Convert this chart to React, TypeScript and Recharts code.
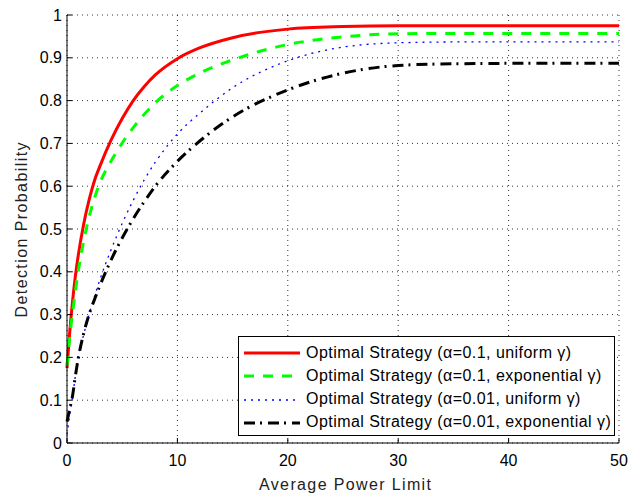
import React from 'react';
import { LineChart, Line, XAxis, YAxis, CartesianGrid } from 'recharts';

// average power limit (x) and detection probability of each strategy
const power = [0, 0.25, 0.5, 0.75, 1, 1.5, 2, 2.5, 3, 4, 5, 6, 7, 8, 10, 12, 15, 20, 25, 30, 35, 40, 45, 50];
const alpha1Uniform = [0.175, 0.26, 0.33, 0.388, 0.435, 0.51, 0.568, 0.614, 0.648, 0.708, 0.758, 0.8, 0.833, 0.86, 0.898, 0.923, 0.947, 0.967, 0.973, 0.975, 0.975, 0.975, 0.975, 0.975];
const alpha1Expo = [0.18, 0.248, 0.303, 0.353, 0.398, 0.47, 0.528, 0.573, 0.609, 0.659, 0.701, 0.737, 0.768, 0.795, 0.835, 0.864, 0.895, 0.931, 0.949, 0.956, 0.957, 0.957, 0.957, 0.957];
const alpha01Uniform = [0.02, 0.065, 0.108, 0.155, 0.2, 0.252, 0.3, 0.343, 0.383, 0.452, 0.513, 0.567, 0.615, 0.656, 0.722, 0.77, 0.83, 0.893, 0.925, 0.935, 0.937, 0.937, 0.937, 0.937];
const alpha01Expo = [0.05, 0.08, 0.11, 0.155, 0.195, 0.255, 0.3, 0.336, 0.369, 0.428, 0.479, 0.524, 0.564, 0.6, 0.658, 0.705, 0.762, 0.825, 0.864, 0.882, 0.886, 0.887, 0.887, 0.887];

const xTicks = [0, 10, 20, 30, 40, 50];
const yTicks = [0, 0.1, 0.2, 0.3, 0.4, 0.5, 0.6, 0.7, 0.8, 0.9, 1];

const seriesNames = [
  'Optimal Strategy (\u03b1=0.1, uniform \u03b3)',
  'Optimal Strategy (\u03b1=0.1, exponential \u03b3)',
  'Optimal Strategy (\u03b1=0.01, uniform \u03b3)',
  'Optimal Strategy (\u03b1=0.01, exponential \u03b3)',
];

const series = [
  { key: 'a1u', color: '#ff0000', width: 3, dash: undefined },
  { key: 'a1e', color: '#00ff00', width: 3, dash: '10 9' },
  { key: 'a01u', color: '#0000ff', width: 1.3, dash: '2 5' },
  { key: 'a01e', color: '#000000', width: 3, dash: '11 5 2 6' },
];

const data = power.map((x, i) => ({
  x,
  a1u: alpha1Uniform[i],
  a1e: alpha1Expo[i],
  a01u: alpha01Uniform[i],
  a01e: alpha01Expo[i],
}));

const FONT = '"Liberation Sans", Arial, Helvetica, sans-serif';

const App: React.FC = () => {
  return (
    <div style={{ position: 'absolute', left: 0, top: 0, width: 631, height: 493, fontFamily: FONT, background: '#fff' }}>
      <LineChart width={631} height={493} data={data} margin={{ top: 15, right: 12, bottom: 20, left: 17 }}>
        <CartesianGrid xAxisId="bottom" yAxisId="left" stroke="#000" strokeDasharray="1 4" strokeOpacity={0.8} />
        <XAxis
          xAxisId="bottom"
          dataKey="x"
          type="number"
          domain={[0, 50]}
          ticks={xTicks}
          height={30}
          stroke="#000"
          tickSize={-5}
          tickMargin={17}
          tick={{ fontSize: 16, fill: '#000' }}
          label={{
            content: () => (
              <text x={345} y={490} textAnchor="middle" fontSize={16} fill="#222" textLength={172} lengthAdjust="spacing">
                Average Power Limit
              </text>
            ),
          }}
        />
        <XAxis xAxisId="top" orientation="top" dataKey="x" type="number" domain={[0, 50]} ticks={xTicks} height={0} stroke="#000" tickSize={-5} tick={false} />
        <YAxis
          yAxisId="left"
          type="number"
          domain={[0, 1]}
          ticks={yTicks}
          width={50}
          stroke="#000"
          tickSize={-5}
          tickMargin={10}
          tick={{ fontSize: 16, fill: '#000' }}
          label={{
            content: () => (
              <text
                x={21}
                y={230}
                transform="rotate(-90 21 230)"
                textAnchor="middle"
                dominantBaseline="central"
                fontSize={16}
                fill="#222"
                textLength={175}
                lengthAdjust="spacing"
              >
                Detection Probability
              </text>
            ),
          }}
        />
        <YAxis yAxisId="right" orientation="right" type="number" domain={[0, 1]} ticks={yTicks} width={0} stroke="#000" tickSize={-5} tick={false} />
        {series.map((s) => (
          <Line
            key={s.key}
            xAxisId="bottom"
            yAxisId="left"
            type="monotone"
            dataKey={s.key}
            stroke={s.color}
            strokeWidth={s.width}
            strokeDasharray={s.dash}
            dot={false}
            activeDot={false}
            isAnimationActive={false}
          />
        ))}
      </LineChart>
      <div
        style={{
          position: 'absolute',
          left: 238,
          top: 336,
          width: 375,
          height: 98,
          border: '1px solid #000',
          background: '#fff',
          boxSizing: 'content-box',
        }}
      >
        {series.map((s, i) => (
          <div key={s.key} style={{ position: 'absolute', left: 0, top: 4 + i * 23.3, height: 23, display: 'flex', alignItems: 'center', whiteSpace: 'nowrap' }}>
            <svg width={66} height={23} style={{ display: 'block' }}>
              <line x1={5} y1={12} x2={61} y2={12} stroke={s.color} strokeWidth={s.width} strokeDasharray={s.dash} />
            </svg>
            <span style={{ fontSize: 16, color: '#000', marginLeft: 1, letterSpacing: 0.45 }}>{seriesNames[i]}</span>
          </div>
        ))}
      </div>
    </div>
  );
};

export default App;
